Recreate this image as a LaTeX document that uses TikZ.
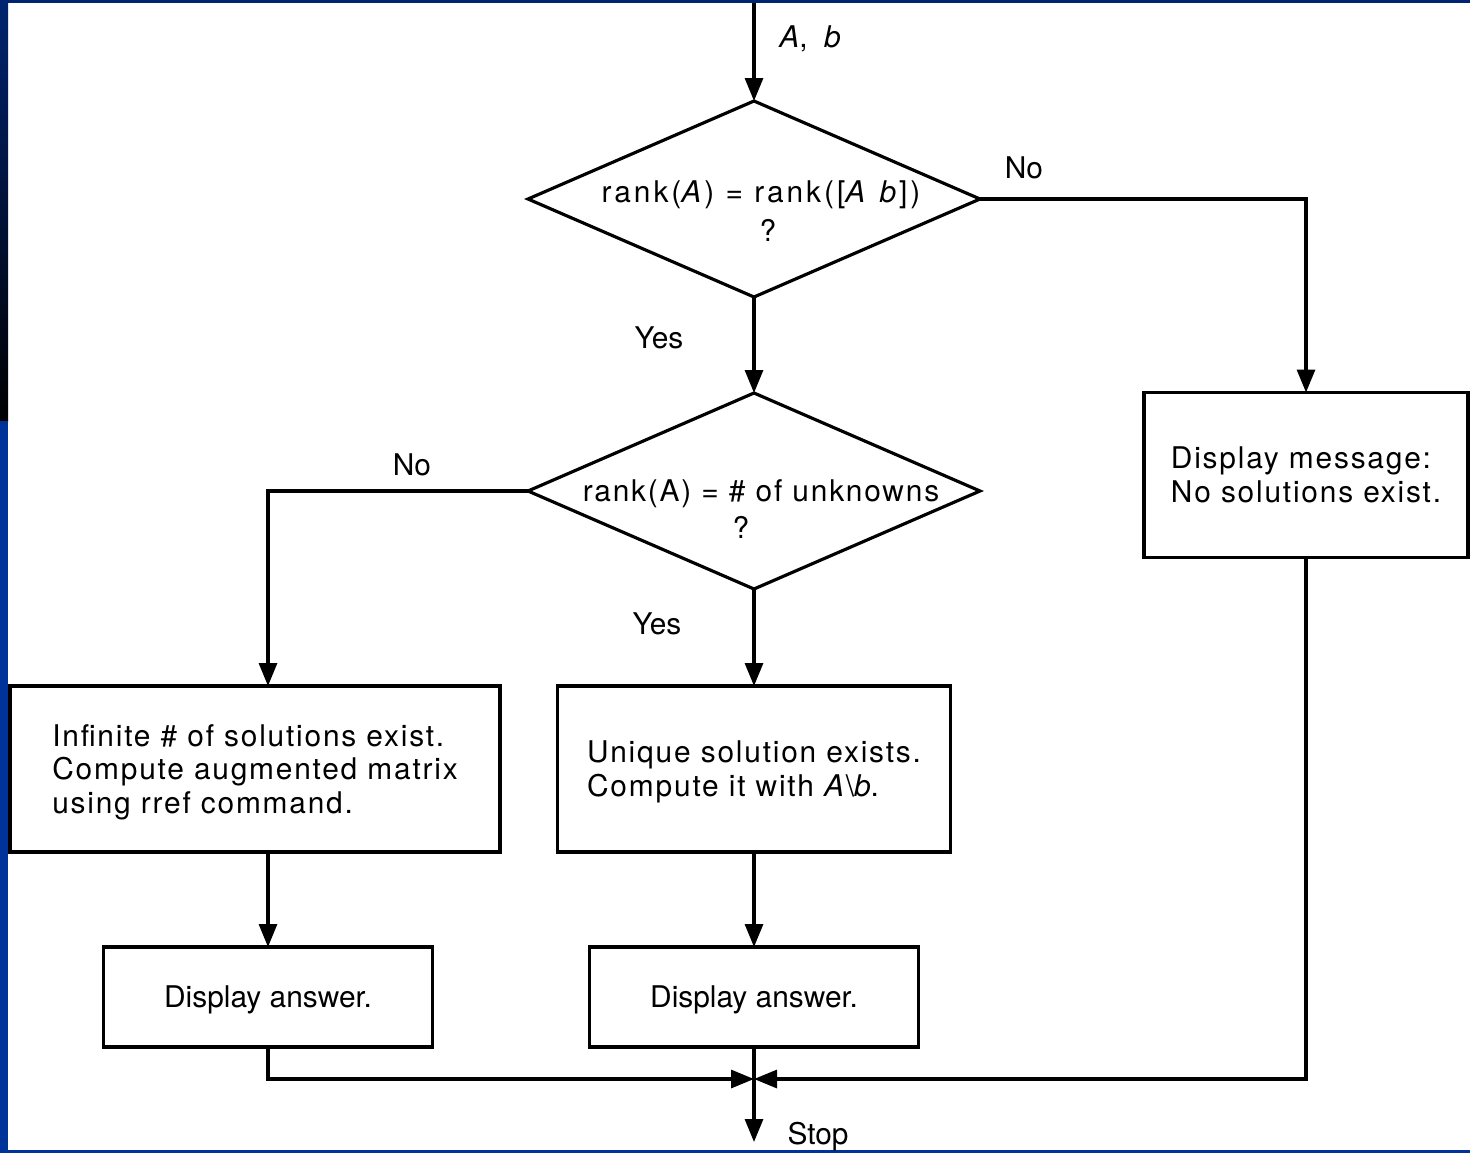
\documentclass[tikz,border=0pt]{standalone}
\usepackage{fontspec}
\setmainfont{TeX Gyre Heros}
\newfontfamily\spaced[LetterSpace=6]{TeX Gyre Heros}
\newfontfamily\wide[LetterSpace=10]{TeX Gyre Heros}
\usetikzlibrary{arrows.meta,shapes.geometric}
\def\px{0.02cm}
\def\fsz{\fontsize{17pt}{19.3pt}\selectfont}
\definecolor{navy}{RGB}{0,36,112}
\definecolor{slideblue}{RGB}{0,51,153}
\tikzset{
  box/.style={draw, line width=1.8pt, align=left, inner sep=0pt, outer sep=0pt, text depth=0pt, font=\spaced\fsz},
  ansbox/.style={draw, line width=1.8pt, inner sep=0pt, outer sep=0pt, text depth=0pt, minimum width=329*\px, minimum height=100*\px},
  dec/.style={draw, diamond, line width=1.8pt, inner sep=0pt, outer sep=0pt, minimum width=452*\px, minimum height=196*\px},
  qtext/.style={inner sep=0pt, align=center, font=\spaced\fsz},
  lbl/.style={inner sep=0pt},
  arr/.style={line width=1.8pt, -{Triangle[length=0.46cm, width=0.36cm]}}
}

\begin{document}
\begin{tikzpicture}[x=0.02cm, y=-0.02cm, font=\fsz]
\useasboundingbox (0,0) rectangle (1470,1153);
\fill[white] (0,0) rectangle (1470,1153);
\shade[top color=navy, bottom color=black] (0,0) rectangle (8,421);
\fill[slideblue] (0,421) rectangle (8,1153);
\fill[navy] (0,0) rectangle (1470,3);
\fill[slideblue] (8,1150) rectangle (1470,1153);

\coordinate (in) at (754,3);
\coordinate (j) at (754,1079);
\coordinate (stop) at (754,1142);

\node[dec] (d1) at (754,199) {};
\node[qtext, font=\wide\fsz] (d1t) at (761,211) {rank(\textit{A}) = rank([\textit{A}~\textit{b}])\\[2.5pt]\hspace*{0.28cm}?};
\node[dec] (d2) at (754,491) {};
\node[qtext] (d2t) at (761,509) {rank(A) = \# of unknowns\\[2pt]?\hspace*{0.8cm}};

\node[box, minimum width=490*\px, minimum height=166*\px] (b1) at (255,769) {Infinite \# of solutions exist.\\Compute augmented matrix\\using rref command.};
\node[box, minimum width=393*\px, minimum height=166*\px] (b2) at (754,769) {Unique solution exists.\\Compute it with \textit{A}\textbackslash\textit{b}.};
\node[box, minimum width=324*\px, minimum height=165*\px] (b3) at (1306,475) {Display message:\\No solutions exist.};
\node[ansbox] (b4) at (268,997) {Display answer.};
\node[ansbox] (b5) at (754,997) {Display answer.};

\foreach \p/\q in {in/d1.north, d1.south/d2.north, d2.south/b2.north, b2.south/b5.north, b5.south/stop}{
	\draw[arr] (\p) -- (\q);
}
\draw[arr] (d1.east) -| (b3.north);
\draw[arr] (d2.west) -| (b4.north |- b1.north);
\draw[arr] (b4.north |- b1.south) -- (b4.north);
\draw[arr] (b4.south) |- (j);
\draw[arr] (b3.south) |- (j);

\node[lbl, font=\spaced\fsz] (ab) at (811,39) {\textit{A},\hspace{0.55em}\textit{b}};
\node[lbl] (no1) at (1024,168) {No};
\node[lbl] (yes1) at (659,338) {Yes};
\node[lbl] (no2) at (412,465) {No};
\node[lbl] (yes2) at (657,624) {Yes};
\node[lbl] (st) at (818,1137) {Stop};
\end{tikzpicture}
\end{document}
